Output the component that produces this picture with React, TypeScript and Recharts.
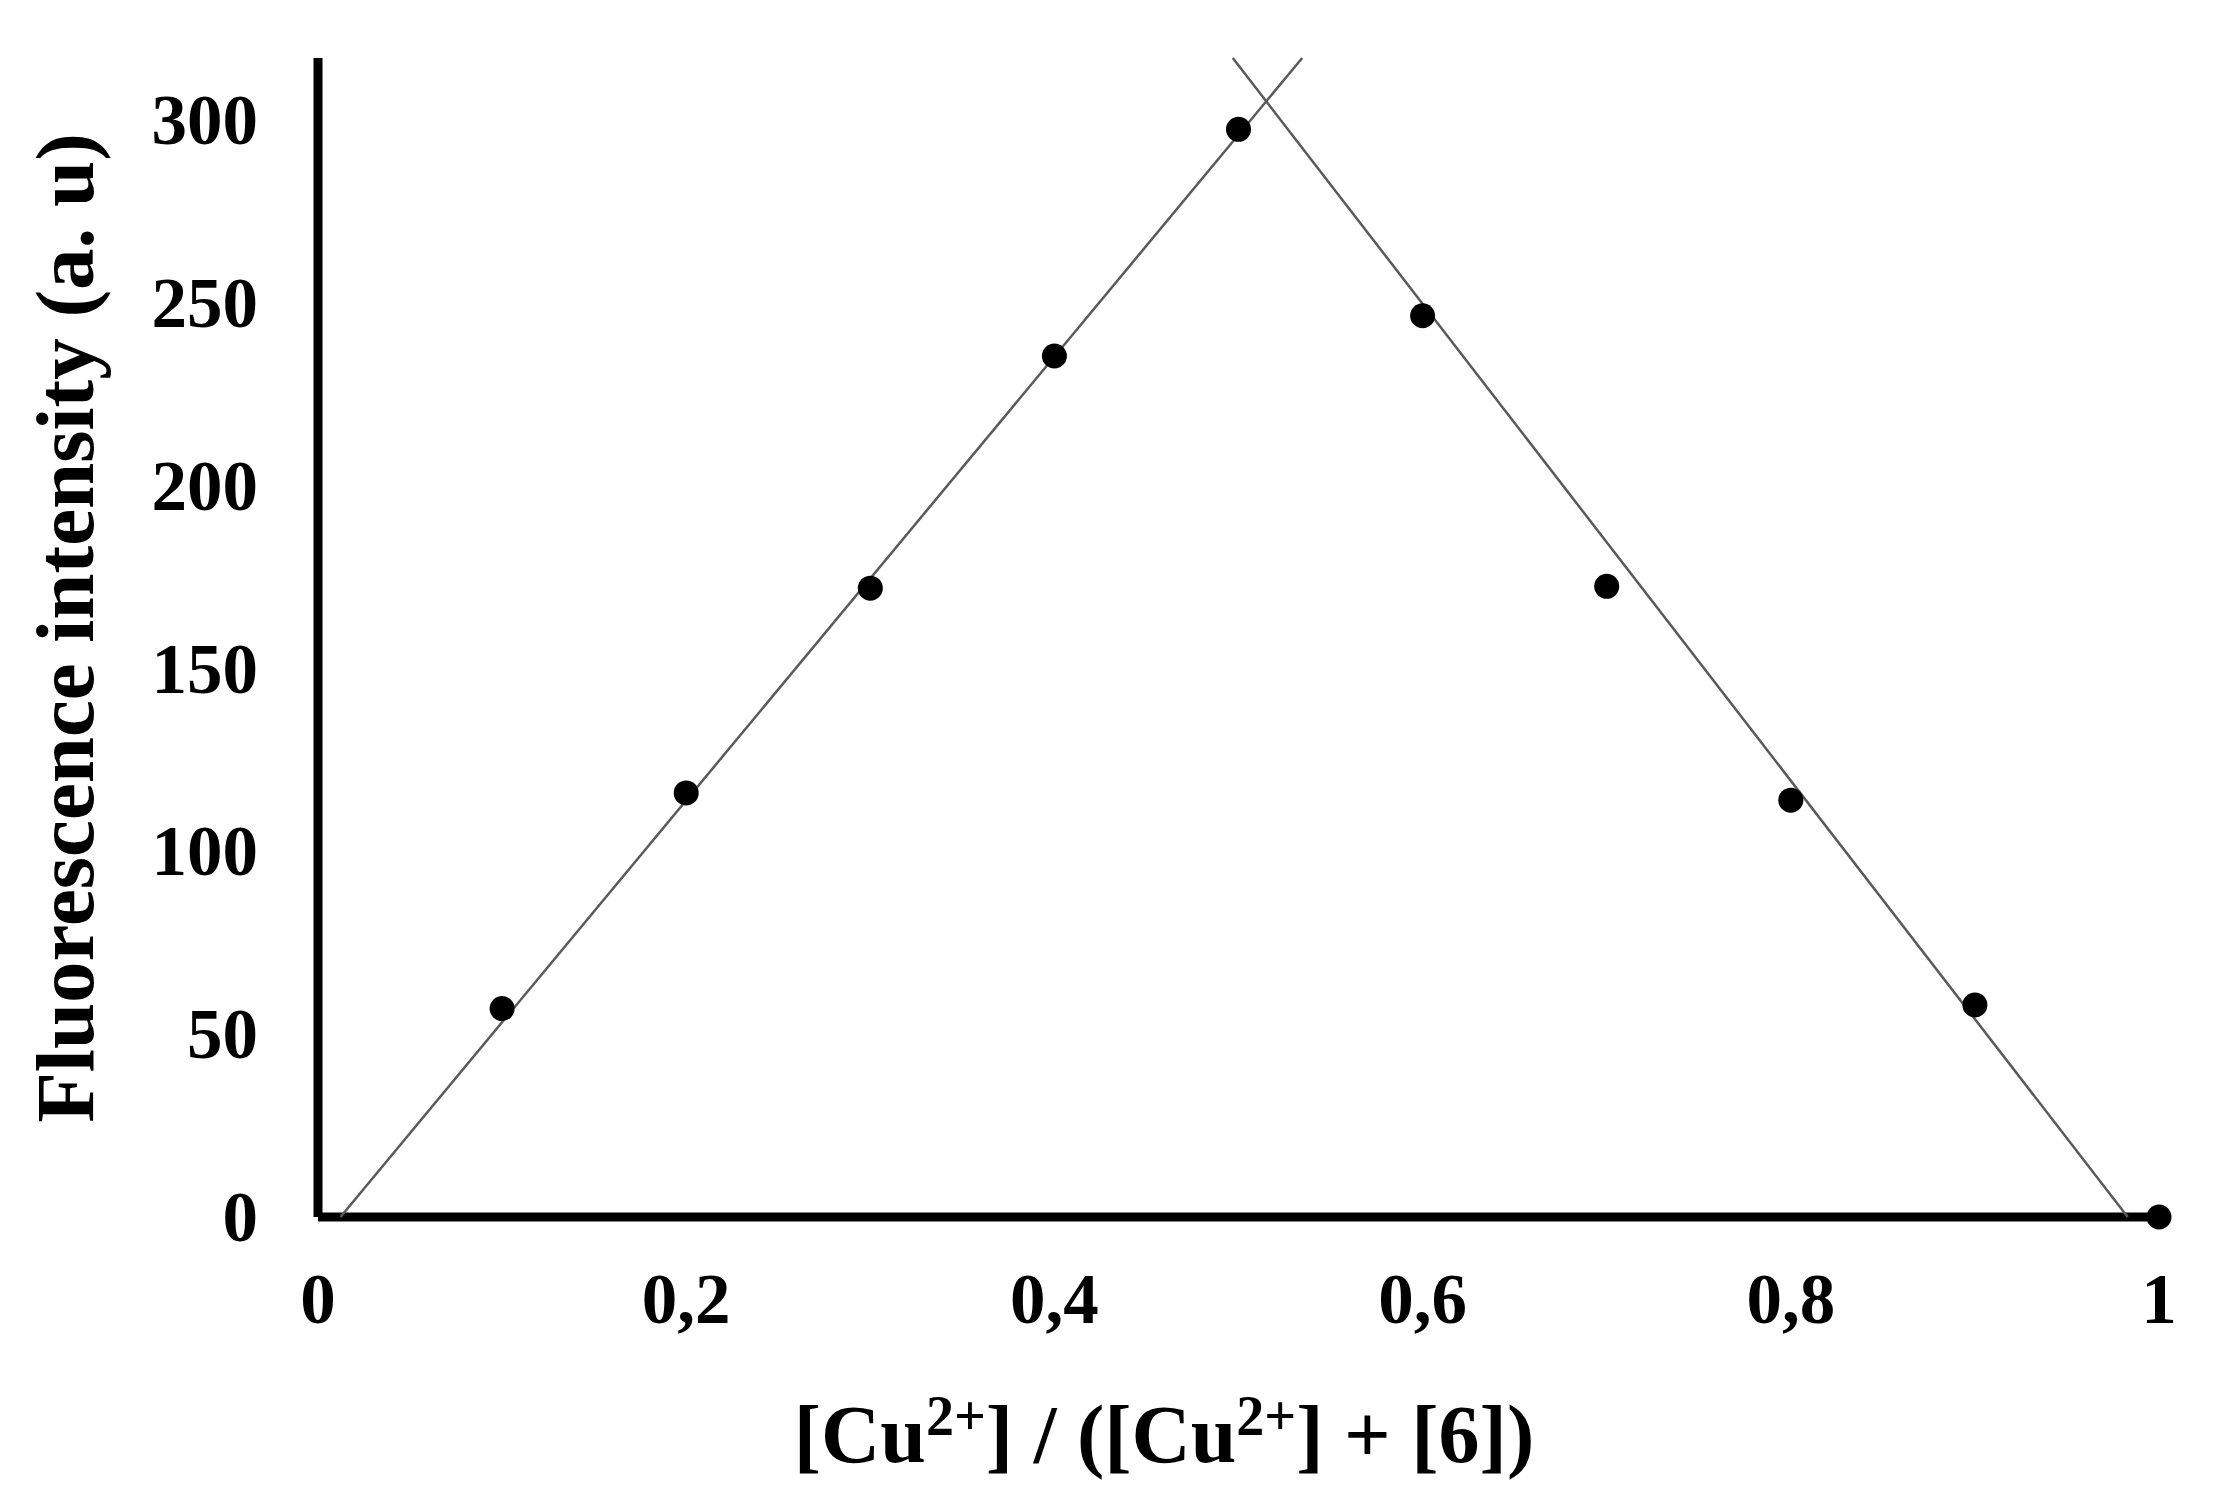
import React from 'react';
import { ScatterChart, Scatter, XAxis, YAxis } from 'recharts';

// Job plot: mole fraction of Cu2+ vs fluorescence intensity
const moleFraction = [0.1, 0.2, 0.3, 0.4, 0.5, 0.6, 0.7, 0.8, 0.9, 1];
const intensity = [57, 116, 172, 235.5, 297.5, 246.5, 172.5, 114, 58, 0];

// linear fits, read as the end points of the drawn lines
const risingFitX = [0.0122, 0.5346];
const risingFitY = [0, 317];
const fallingFitX = [0.4969, 0.983];
const fallingFitY = [317, 0];

const xTicks = [0, 0.2, 0.4, 0.6, 0.8, 1];
const xTickLabels = ['0', '0,2', '0,4', '0,6', '0,8', '1'];
const yTicks = [0, 50, 100, 150, 200, 250, 300];

const W = 2215;
const H = 1506;
const FONT = '"Liberation Serif", "Times New Roman", serif';

const points = moleFraction.map((x, i) => ({ x, y: intensity[i] }));
const risingFit = risingFitX.map((x, i) => ({ x, y: risingFitY[i] }));
const fallingFit = fallingFitX.map((x, i) => ({ x, y: fallingFitY[i] }));

function XTick({ x, y, payload }: any) {
  const idx = xTicks.indexOf(payload.value);
  return (
    <text x={x} y={y + 106} textAnchor="middle" fontFamily={FONT} fontWeight="bold" fontSize={71} fill="#000">
      {idx >= 0 ? xTickLabels[idx] : payload.value}
    </text>
  );
}

function YTick({ x, y, payload }: any) {
  return (
    <text x={x - 60} y={y + 24} textAnchor="end" fontFamily={FONT} fontWeight="bold" fontSize={71} fill="#000">
      {payload.value}
    </text>
  );
}

const Dot = ({ cx, cy }: any) => <circle cx={cx} cy={cy} r={12.5} fill="#000" />;
const NoDot = () => <g />;

export default function App() {
  return (
    <div style={{ position: 'absolute', left: 0, top: 0, width: W, height: H, background: '#fff' }}>
      <ScatterChart width={W} height={H} margin={{ top: 58, right: 56, bottom: 0, left: 0 }}>
        <XAxis
          type="number"
          dataKey="x"
          domain={[0, 1]}
          ticks={xTicks}
          height={289}
          tickSize={0}
          tickMargin={0}
          tickLine={false}
          axisLine={{ stroke: '#000', strokeWidth: 9 }}
          tick={<XTick />}
        />
        <YAxis
          type="number"
          dataKey="y"
          domain={[0, 317]}
          ticks={yTicks}
          width={318}
          tickSize={0}
          tickMargin={0}
          tickLine={false}
          axisLine={{ stroke: '#000', strokeWidth: 9 }}
          tick={<YTick />}
        />
        <Scatter data={risingFit} line={{ stroke: '#5a5a5a', strokeWidth: 2.5 }} shape={<NoDot />} isAnimationActive={false} />
        <Scatter data={fallingFit} line={{ stroke: '#5a5a5a', strokeWidth: 2.5 }} shape={<NoDot />} isAnimationActive={false} />
        <Scatter data={points} shape={<Dot />} isAnimationActive={false} />
      </ScatterChart>
      <svg width={W} height={H} style={{ position: 'absolute', left: 0, top: 0, pointerEvents: 'none' }}>
        <text
          x={93}
          y={628}
          transform="rotate(-90, 93, 628)"
          textAnchor="middle"
          fontFamily={FONT}
          fontWeight="bold"
          fontSize={83}
          fill="#000"
        >
          Fluorescence intensity (a. u)
        </text>
        <text x={1164} y={1462} textAnchor="middle" fontFamily={FONT} fontWeight="bold" fontSize={82} fill="#000">
          [Cu<tspan fontSize={56} dy={-27}>2+</tspan>
          <tspan dy={27}>] / ([Cu</tspan>
          <tspan fontSize={56} dy={-27}>2+</tspan>
          <tspan dy={27}>] + [6])</tspan>
        </text>
      </svg>
    </div>
  );
}
